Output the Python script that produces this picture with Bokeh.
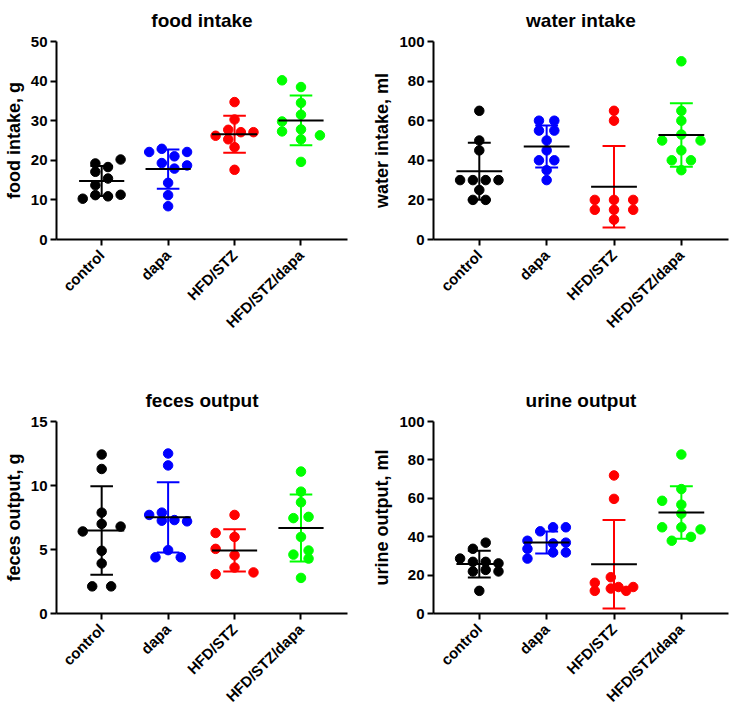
import numpy as np
from bokeh.plotting import figure
from bokeh.layouts import column, row
from bokeh.models import Range1d, FixedTicker
from bokeh.embed import file_html
from bokeh.resources import INLINE

categories = ["control", "dapa", "HFD/STZ", "HFD/STZ/dapa"]
group_colors = ["#000000", "#0000FF", "#FF0000", "#00FF00"]

# food intake, g
food_control = [10.3, 19.2, 18.3, 20.2, 17.1, 15.4, 13.7, 11.2, 10.9, 11.3]
food_dapa = [22.1, 22.9, 22.1, 21.0, 19.3, 18.7, 17.9, 14.3, 11.2, 8.4]
food_hfd = [34.7, 30.3, 27.7, 27.1, 26.2, 27.1, 25.3, 23.3, 17.6]
food_hfd_dapa = [40.2, 38.5, 34.5, 31.5, 29.8, 27.3, 27.8, 25.3, 26.3, 19.6]

# water intake, ml
water_control = [65, 50, 45, 30, 30, 30, 30, 25, 20, 20]
water_dapa = [60, 60, 55, 55, 50, 45, 40, 40, 35, 30]
water_hfd = [65, 60, 20, 20, 20, 15, 15, 15, 10]
water_hfd_dapa = [90, 65, 60, 53, 50, 50, 45, 40, 40, 35]

# feces output, g
feces_control = [12.42, 11.29, 7.88, 7.0, 6.79, 6.41, 4.9, 3.91, 2.12, 2.12]
feces_dapa = [12.5, 11.57, 7.88, 7.70, 7.25, 7.30, 7.20, 4.95, 4.39, 4.39]
feces_hfd = [7.70, 6.29, 5.98, 5.05, 4.55, 3.59, 3.08, 3.21]
feces_hfd_dapa = [11.09, 9.52, 8.69, 7.45, 7.55, 5.98, 4.6, 4.92, 4.29, 2.78]

# urine output, ml
urine_control = [28.6, 33.7, 36.9, 26.9, 26.9, 26.1, 21.9, 22.7, 21.9, 11.8]
urine_dapa = [37.9, 33.7, 28.6, 42.8, 44.9, 44.9, 36.5, 36.9, 31.8, 31.8]
urine_hfd = [71.9, 59.7, 18.9, 16.0, 11.8, 13.0, 13.8, 11.8, 13.8]
urine_hfd_dapa = [82.8, 64.8, 58.7, 56.7, 52.0, 44.9, 44.9, 43.8, 37.9, 39.9]

# horizontal scatter slots (in dot widths) for each point
food_slots = [
    [-1.5, -0.5, 0.5, 1.5, -0.5, 0.5, -0.5, -0.5, 0.5, 1.5],
    [-1.5, -0.5, 1.5, 0.5, -0.5, 1.5, 0.5, 0, 0, 0],
    [0, 0, -0.5, 0.5, -1.5, 1.5, -0.5, 0, 0],
    [-1.5, 0, 0, 0, -1.5, -1.5, 0, 0, 1.5, 0],
]
water_slots = [
    [0, 0, 0, -1.5, -0.5, 0.5, 1.5, 0, -0.5, 0.5],
    [-0.6, 0.6, -0.6, 0.6, 0, 0, -0.6, 0.6, 0, 0],
    [0, 0, -1.5, 0, 1.5, -1.5, 0, 1.5, 0],
    [0, 0, 0, 0, -1.5, 1.5, 0, -0.75, 0.75, 0],
]
feces_slots = [
    [0, 0, 0, 0, 1.5, -1.5, 0, 0, -0.75, 0.75],
    [0, 0, -0.5, -1.5, -0.5, 0.5, 1.5, 0, -1, 1],
    [0, -1.5, 0, -1.5, 0, 0, -1.5, 1.5],
    [0, 0, 0, -0.6, 0.6, 0, -0.6, 0.6, 0.6, 0],
]
urine_slots = [
    [-1.5, -0.5, 0.5, -0.5, 0.5, 1.5, -0.5, 0.5, 1.5, 0],
    [-1.5, -1.5, -1.5, -0.5, 0.5, 1.5, 0.5, 1.5, 0.5, 1.5],
    [0, 0, -0.25, -1.5, -1.5, -0.25, 0.35, 0.95, 1.5],
    [0, 0, -1.5, 0, 0, -1.5, 0, 1.5, -0.75, 0.75],
]

FONT = "Liberation Sans"
SLOT = 0.19
CAP = 0.17
MEAN_HW = 0.34


def panel(title, ylabel, groups, slots, ymax, ystep, width, height,
          left, right, top, bottom):
    p = figure(width=width, height=height, output_backend="svg",
               toolbar_location=None, x_range=Range1d(0.32, 4.7),
               y_range=Range1d(0, ymax), min_border_left=left,
               min_border_right=right, min_border_top=top,
               min_border_bottom=bottom, title=title)
    p.title.align = "center"
    p.title.vertical_align = "top"
    p.title.text_font = FONT
    p.title.text_font_size = "19px"
    p.title.text_font_style = "bold"
    p.title.text_color = "black"
    p.title.standoff = 18
    p.outline_line_color = None
    p.grid.visible = False

    for ax in (p.xaxis[0], p.yaxis[0]):
        ax.axis_line_width = 2
        ax.axis_line_color = "black"
        ax.major_tick_line_width = 2
        ax.major_tick_line_color = "black"
        ax.major_tick_out = 6
        ax.major_tick_in = 0
        ax.minor_tick_line_color = None
        ax.major_label_text_font = FONT
        ax.major_label_text_font_style = "bold"
        ax.major_label_text_font_size = "15px"
        ax.major_label_text_color = "black"

    p.yaxis.ticker = FixedTicker(ticks=list(np.arange(0, ymax + 0.001, ystep)))
    p.yaxis.axis_label = ylabel
    p.yaxis.axis_label_text_font = FONT
    p.yaxis.axis_label_text_font_style = "bold"
    p.yaxis.axis_label_text_font_size = "18px"
    p.yaxis.axis_label_text_color = "black"
    p.yaxis.axis_label_standoff = 4
    p.yaxis.major_label_standoff = 3

    positions = [i + 1 for i in range(len(categories))]
    p.xaxis.ticker = FixedTicker(ticks=positions)
    p.xaxis.major_label_overrides = {pos: c for pos, c in zip(positions, categories)}
    p.xaxis.major_label_orientation = np.pi / 4
    p.xaxis.major_label_standoff = 7
    p.xaxis.major_label_text_font_size = "15px"

    for i, (vals, sl) in enumerate(zip(groups, slots)):
        xc = positions[i]
        col = group_colors[i]
        xs = [xc + s * SLOT for s in sl]
        p.scatter(xs, vals, size=9.5, fill_color=col, line_color=col)
        m = float(np.mean(vals))
        sd = float(np.std(vals, ddof=1))
        p.segment(x0=[xc], y0=[m - sd], x1=[xc], y1=[m + sd],
                  line_color=col, line_width=2)
        p.segment(x0=[xc - CAP, xc - CAP], y0=[m - sd, m + sd],
                  x1=[xc + CAP, xc + CAP], y1=[m - sd, m + sd],
                  line_color=col, line_width=2)
        p.segment(x0=[xc - MEAN_HW], y0=[m], x1=[xc + MEAN_HW], y1=[m],
                  line_color="black", line_width=2)
    return p


p1 = panel("food intake", "food intake, g",
           [food_control, food_dapa, food_hfd, food_hfd_dapa], food_slots,
           50, 10, 365, 376, 49, 18, 41, 137)
p2 = panel("water intake", "water intake, ml",
           [water_control, water_dapa, water_hfd, water_hfd_dapa], water_slots,
           100, 20, 366, 376, 68, 3, 41, 137)
p3 = panel("feces output", "feces output, g",
           [feces_control, feces_dapa, feces_hfd, feces_hfd_dapa], feces_slots,
           15, 5, 365, 338, 49, 18, 45, 99)
p4 = panel("urine output", "urine output, ml",
           [urine_control, urine_dapa, urine_hfd, urine_hfd_dapa], urine_slots,
           100, 20, 366, 338, 68, 3, 45, 99)

layout = column(row(p1, p2), row(p3, p4))
open("out.html", "w").write(file_html(layout, INLINE))
